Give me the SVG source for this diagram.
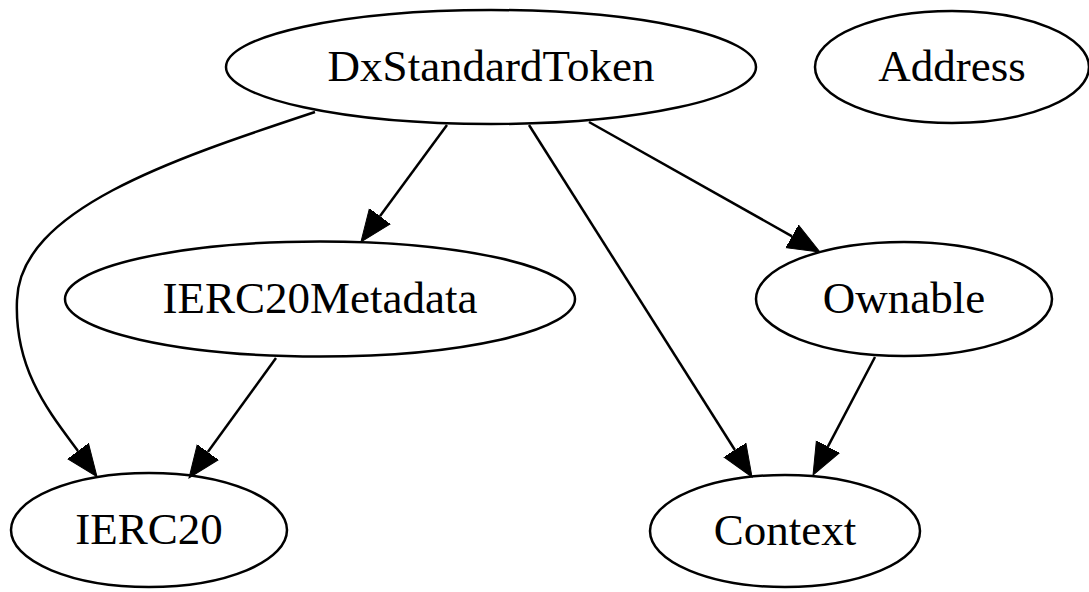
<svg xmlns="http://www.w3.org/2000/svg" width="1089" height="592" viewBox="0 0 1089 592">
<style>
.node ellipse{fill:none;stroke:#000;stroke-width:2.5}
.node text{font-family:'Liberation Serif','Times New Roman',Times,'DejaVu Serif',serif;font-size:45px;fill:#000;text-anchor:middle}
.edges path{fill:none;stroke:#000;stroke-width:2.5}
</style>
<defs>
<marker id="arr" markerUnits="userSpaceOnUse" markerWidth="34" markerHeight="28" viewBox="0 -14 34 28" refX="0" refY="0" orient="auto">
<path d="M0,-13 L32,0 L0,13 Z" fill="#000" stroke="#000" stroke-width="1"/>
</marker>
</defs>
<rect width="1089" height="592" fill="#fff"/>
<g class="edges">
<path d="M315,112 C170,160 20,210 17,300 C14,370 50,413 78,451" marker-end="url(#arr)"/>
<path d="M447,125 L379.9,216.2" marker-end="url(#arr)"/>
<path d="M529,125 L734.9,450" marker-end="url(#arr)"/>
<path d="M589,122 L792.1,236.3" marker-end="url(#arr)"/>
<path d="M276,358 L207.8,452.1" marker-end="url(#arr)"/>
<path d="M875,357 L827.9,446.7" marker-end="url(#arr)"/>
</g>
<g id="DxStandardToken" class="node"><ellipse cx="491" cy="67" rx="265" ry="57"/><text x="491" y="81" font-family="Liberation Serif, serif">DxStandardToken</text></g>
<g id="Address" class="node"><ellipse cx="952" cy="67" rx="137" ry="56"/><text x="952" y="81" font-family="Liberation Serif, serif">Address</text></g>
<g id="IERC20Metadata" class="node"><ellipse cx="320" cy="299" rx="255" ry="57.5"/><text x="320" y="313" font-family="Liberation Serif, serif">IERC20Metadata</text></g>
<g id="Ownable" class="node"><ellipse cx="904" cy="299" rx="148" ry="57"/><text x="904" y="313" font-family="Liberation Serif, serif">Ownable</text></g>
<g id="IERC20" class="node"><ellipse cx="149" cy="530" rx="138" ry="57"/><text x="149" y="544" font-family="Liberation Serif, serif">IERC20</text></g>
<g id="Context" class="node"><ellipse cx="785" cy="531" rx="135" ry="56"/><text x="785" y="545" font-family="Liberation Serif, serif">Context</text></g>
</svg>
